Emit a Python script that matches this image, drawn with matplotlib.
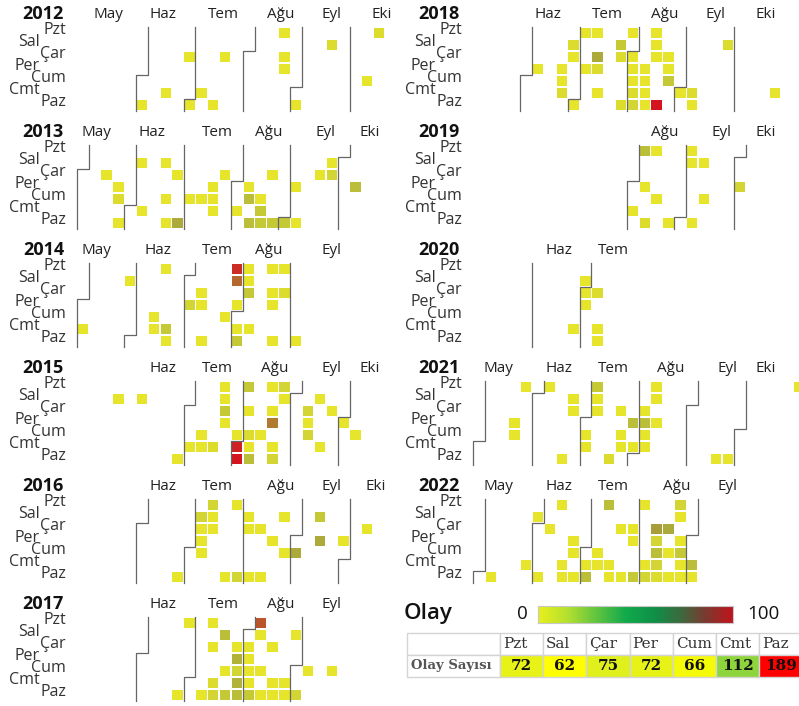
import datetime as dt
import numpy as np
import matplotlib
matplotlib.use("Agg")
import matplotlib.pyplot as plt
from matplotlib.colors import LinearSegmentedColormap, Normalize
from matplotlib.patches import Rectangle

plt.rcParams['font.family'] = ['Open Sans', 'DejaVu Sans']

# ---- data ----------------------------------------------------------------
years = [2012, 2013, 2014, 2015, 2016, 2017, 2018, 2019, 2020, 2021, 2022]
day_names = ["Pzt", "Sal", "Çar", "Per", "Cum", "Cmt", "Paz"]
month_names = {5: "May", 6: "Haz", 7: "Tem", 8: "Ağu", 9: "Eyl", 10: "Eki"}

dates_2012 = ["06-03", "06-16", "06-27", "07-01", "07-07", "07-15", "07-18", "08-20",
              "08-22", "08-23", "09-02", "09-18", "10-12", "10-15"]
counts_2012 = [1, 1, 1, 1, 1, 1, 1, 1, 1, 1, 1, 2, 1, 2]

dates_2013 = ["05-15", "05-23", "05-24", "05-26", "06-04", "06-08", "06-18", "06-21",
              "06-23", "06-26", "06-30", "07-05", "07-12", "07-18", "07-19", "07-20",
              "07-24", "08-03", "08-08", "08-09", "08-11", "08-16", "08-17", "08-18",
              "08-21", "08-25", "09-01", "09-05", "09-08", "09-18", "09-24", "09-25",
              "10-10"]
counts_2013 = [1, 1, 2, 1, 1, 1, 1, 1, 1, 1, 7, 1, 1, 1, 1, 1,
               1, 1, 1, 5, 5, 1, 4, 4, 1, 4, 4, 1, 1, 1, 1, 3, 5]

dates_2014 = ["05-03", "05-27", "06-13", "06-14", "06-16", "06-21", "06-22", "07-03",
              "07-09", "07-10", "07-13", "07-25", "07-28", "07-29", "07-31", "08-02",
              "08-03", "08-04", "08-05", "08-06", "08-09", "08-18", "08-20", "08-21",
              "08-24", "08-25", "08-27", "09-07"]
counts_2014 = [1, 1, 1, 1, 1, 4, 1, 3, 1, 1, 1, 1, 15, 11, 1, 1,
               4, 1, 1, 4, 1, 1, 1, 1, 1, 1, 2, 1]

dates_2015 = ["05-19", "06-02", "06-28", "07-04", "07-10", "07-11", "07-18", "07-20",
              "07-21", "07-22", "07-23", "07-31", "08-01", "08-02", "08-03", "08-05",
              "08-07", "08-08", "08-09", "08-14", "08-17", "08-19", "08-20", "08-22",
              "08-23", "08-24", "08-25", "09-09", "09-10", "09-11", "09-15", "09-19",
              "09-23", "10-01", "10-09"]
counts_2015 = [1, 1, 1, 1, 1, 1, 2, 1, 1, 4, 1, 1, 17, 20, 4, 1,
               2, 1, 5, 1, 1, 1, 10, 1, 3, 3, 1, 3, 1, 3, 1, 1, 1, 1, 1]

dates_2016 = ["06-26", "07-05", "07-06", "07-07", "07-08", "07-11", "07-12", "07-13",
              "07-24", "07-25", "07-31", "08-02", "08-03", "08-07", "08-10", "08-14",
              "08-18", "08-23", "08-26", "09-02", "09-13", "09-15", "09-29", "10-12"]
counts_2016 = [1, 3, 1, 1, 1, 3, 1, 1, 1, 1, 3, 1, 1, 1, 1, 1,
               1, 1, 1, 7, 4, 7, 1, 1]

dates_2017 = ["06-25", "06-26", "07-09", "07-10", "07-12", "07-15", "07-16", "07-18",
              "07-21", "07-23", "07-26", "07-27", "07-28", "07-29", "07-30", "08-02",
              "08-03", "08-04", "08-05", "08-06", "08-07", "08-08", "08-11", "08-13",
              "08-16", "08-19", "08-20", "08-26", "08-27", "08-29", "09-03", "09-08",
              "09-22"]
counts_2017 = [1, 1, 1, 1, 1, 2, 3, 5, 1, 4, 1, 6, 3, 6, 5, 1,
               1, 1, 1, 4, 12, 1, 1, 1, 1, 1, 1, 1, 1, 1, 3, 1, 1]

dates_2018 = ["06-07", "06-21", "06-22", "06-23", "06-26", "06-27", "07-01", "07-02",
              "07-05", "07-09", "07-11", "07-12", "07-14", "07-24", "07-25", "07-29",
              "07-30", "08-01", "08-02", "08-03", "08-04", "08-05", "08-09", "08-10",
              "08-11", "08-12", "08-13", "08-14", "08-15", "08-19", "08-22", "08-23",
              "08-24", "09-01", "09-08", "09-09", "09-25", "10-27"]
counts_2018 = [1, 1, 1, 2, 2, 1, 1, 1, 1, 1, 7, 2, 1, 4, 2, 2,
               1, 1, 1, 1, 2, 3, 1, 1, 1, 1, 1, 1, 1, 20, 1, 1,
               4, 1, 2, 1, 2, 1]

dates_2019 = ["08-03", "08-05", "08-08", "08-11", "08-12", "08-16", "08-25", "09-02",
              "09-03", "09-08", "09-10", "09-13", "10-03"]
counts_2019 = [1, 5, 1, 2, 1, 1, 1, 1, 1, 1, 1, 1, 3]

dates_2020 = ["06-27", "06-30", "07-01", "07-02", "07-08", "07-11", "07-12"]
counts_2020 = [1, 1, 1, 1, 2, 1, 1]

dates_2021 = ["05-20", "05-21", "05-24", "06-07", "06-20", "06-22", "06-23", "07-02",
              "07-03", "07-05", "07-06", "07-07", "07-18", "07-21", "07-23", "07-24",
              "07-29", "07-31", "08-04", "08-05", "08-06", "08-07", "08-09", "08-10",
              "08-12", "09-19", "09-26", "11-01"]
counts_2021 = [1, 1, 1, 1, 1, 1, 1, 1, 1, 4, 1, 1, 2, 1, 1, 1,
               5, 1, 1, 5, 1, 1, 1, 1, 1, 1, 1, 1]

dates_2022 = ["05-08", "05-28", "05-31", "06-05", "06-08", "06-13", "06-18", "06-19",
              "06-23", "06-24", "06-26", "07-02", "07-03", "07-08", "07-09", "07-11",
              "07-16", "07-17", "07-20", "07-24", "07-27", "07-28", "07-31", "08-01",
              "08-06", "08-07", "08-10", "08-11", "08-12", "08-13", "08-14", "08-17",
              "08-19", "08-21", "08-22", "08-23", "08-25", "08-26", "08-27", "08-28",
              "09-03", "09-04"]
counts_2022 = [1, 1, 1, 1, 1, 1, 1, 1, 1, 1, 1, 1, 5, 1, 1, 5,
               1, 1, 1, 1, 1, 1, 4, 1, 1, 3, 8, 3, 5, 3, 2, 7,
               1, 1, 3, 1, 1, 4, 1, 1, 5, 1]

# months that get a name on top / a boundary line in each panel
label_months = {2012: [5, 6, 7, 8, 9, 10], 2013: [5, 6, 7, 8, 9, 10], 2014: [5, 6, 7, 8, 9],
                2015: [6, 7, 8, 9, 10], 2016: [6, 7, 8, 9, 10], 2017: [6, 7, 8, 9],
                2018: [6, 7, 8, 9, 10], 2019: [8, 9, 10], 2020: [6, 7],
                2021: [5, 6, 7, 8, 9, 10], 2022: [5, 6, 7, 8, 9]}
line_months = {2012: [6, 7, 8, 9, 10], 2013: [5, 6, 7, 8, 9, 10], 2014: [5, 6, 7, 8, 9],
               2015: [7, 8, 9, 10], 2016: [6, 7, 8, 9, 10], 2017: [6, 7, 8, 9],
               2018: [6, 7, 8, 9, 10], 2019: [8, 9, 10], 2020: [6, 7],
               2021: [5, 6, 7, 8, 9, 10], 2022: [5, 6, 7, 8, 9]}

table_counts = [72, 62, 75, 72, 66, 112, 189]
legend_min, legend_max = 0, 100

events = {2012: (dates_2012, counts_2012), 2013: (dates_2013, counts_2013),
          2014: (dates_2014, counts_2014), 2015: (dates_2015, counts_2015),
          2016: (dates_2016, counts_2016), 2017: (dates_2017, counts_2017),
          2018: (dates_2018, counts_2018), 2019: (dates_2019, counts_2019),
          2020: (dates_2020, counts_2020), 2021: (dates_2021, counts_2021),
          2022: (dates_2022, counts_2022)}

# ---- colours ---------------------------------------------------------------
cell_cmap = LinearSegmentedColormap.from_list("cells", [
    (0.0, "#e6e42b"), (0.1, "#d2d533"), (0.22, "#b7bb39"), (0.35, "#a6a43a"),
    (0.48, "#b07830"), (0.6, "#bc4e2a"), (0.75, "#cc2a26"), (1.0, "#d4141e")])
cell_norm = Normalize(1, 20)
legend_cmap = LinearSegmentedColormap.from_list("legend", [
    (0.0, "#e8f01c"), (0.15, "#b4e030"), (0.3, "#60c440"), (0.45, "#12aa4c"),
    (0.6, "#0f8f48"), (0.73, "#3b6b3e"), (0.86, "#7a3a30"), (1.0, "#c0141c")])
table_cmap = LinearSegmentedColormap.from_list("table", [
    (0.0, "#ffff00"), (0.1, "#e0f01c"), (0.39, "#8ed43c"), (0.7, "#d09030"),
    (1.0, "#ff0000")])

# ---- layout (pixels) --------------------------------------------------------
W, H = 799, 706
CELL_X, CELL_Y = 11.85, 12.0
COL0 = -124.5        # x of week column 0 in a left panel
PANEL_DX, PANEL_DY = 396, 118
ROW0 = 33            # y of the Monday row in the first panel
AX_W = 440
# small horizontal nudges (in weeks) for the month names
month_nudge = {5: -0.85, 6: -0.2, 7: 0.35, 8: 0.7, 9: 1.0, 10: 0.2}


def week_col(day):
    jan1 = dt.date(day.year, 1, 1)
    return (day.timetuple().tm_yday - 1 + jan1.weekday()) // 7


def wk(px):
    # horizontal pixel inside a panel -> week units
    return (px - COL0) / CELL_X


fig = plt.figure(figsize=(W / 100, H / 100), dpi=100)

for i, year in enumerate(years):
    side, slot = divmod(i, 6)
    x0 = side * PANEL_DX
    y0 = ROW0 + slot * PANEL_DY
    ax = fig.add_axes([x0 / W, 1 - (y0 + 6.5 * CELL_Y) / H, AX_W / W, 7 * CELL_Y / H])
    ax.set_xlim(wk(0), wk(AX_W))
    ax.set_ylim(6.5, -0.5)
    ax.axis("off")

    dates, counts = events[year]
    for s, n in zip(dates, counts):
        day = dt.date(year, int(s[:2]), int(s[3:]))
        ax.add_patch(Rectangle((week_col(day) + 0.06, day.weekday() - 0.43), 0.88, 0.86,
                               facecolor=cell_cmap(cell_norm(n)), edgecolor="none"))

    for m in line_months[year]:
        first = dt.date(year, m, 1)
        c, d = week_col(first), first.weekday()
        if d == 0:
            xs, ys = [c, c], [-0.5, 6.5]
        else:
            xs, ys = [c + 1, c + 1, c, c], [-0.5, d - 0.5, d - 0.5, 6.5]
        ax.plot(xs, ys, color="#666666", lw=0.9, clip_on=False)

    for m in label_months[year]:
        c1 = week_col(dt.date(year, m, 1))
        c2 = week_col(dt.date(year, m + 1, 1) - dt.timedelta(days=1))
        xc = (c1 + c2 + 1) / 2 + month_nudge[m]
        ax.text(xc, -1.5, month_names[m], ha="center", va="center", fontsize=11,
                color="#222222", clip_on=False)

    ax.text(wk(64), -1.6, str(year), ha="right", va="center", fontsize=13,
            fontweight="bold", color="#111111", clip_on=False)
    for d, name in enumerate(day_names):
        xr = 66 if d % 2 == 0 else 40
        ax.text(wk(xr), d - 0.28, name, ha="right", va="center", fontsize=11.5,
                color="#333333", clip_on=False)

# ---- legend -----------------------------------------------------------------
cax = fig.add_axes([538 / W, 1 - 623 / H, 195 / W, 17 / H])
cax.imshow(np.linspace(legend_min, legend_max, 256)[None, :], aspect="auto",
           cmap=legend_cmap, extent=[legend_min, legend_max, 0, 1])
cax.set_xticks([])
cax.set_yticks([])
for sp in cax.spines.values():
    sp.set_color("#c8c8c8")
    sp.set_linewidth(0.8)

ov = fig.add_axes([0, 0, 1, 1])
ov.set_xlim(0, W)
ov.set_ylim(H, 0)
ov.axis("off")
ov.text(404, 613, "Olay", ha="left", va="center", fontsize=16, fontweight="semibold",
        color="#111111")
ov.text(522, 614, str(legend_min), ha="center", va="center", fontsize=13.5, color="#111111")
ov.text(763, 614, str(legend_max), ha="center", va="center", fontsize=13.5, color="#111111")

# ---- table ------------------------------------------------------------------
tx0, lab_w, cw = 407, 93, 43.2
ty0, rh = 633, 22
tnorm = Normalize(min(table_counts), max(table_counts))
ov.add_patch(Rectangle((tx0, ty0), lab_w, rh, facecolor="white", edgecolor="#d4d4d4", lw=1))
ov.add_patch(Rectangle((tx0, ty0 + rh), lab_w, rh, facecolor="white", edgecolor="#d4d4d4", lw=1))
ov.text(tx0 + 4, ty0 + rh * 1.5, "Olay Sayısı", ha="left", va="center", fontsize=9.5,
        family="DejaVu Serif", color="#555555", fontweight="bold")
for j, (name, n) in enumerate(zip(day_names, table_counts)):
    x = tx0 + lab_w + j * cw
    ov.add_patch(Rectangle((x, ty0), cw, rh, facecolor="white", edgecolor="#d4d4d4", lw=1))
    ov.add_patch(Rectangle((x, ty0 + rh), cw, rh, facecolor=table_cmap(tnorm(n)),
                           edgecolor="#d4d4d4", lw=1))
    ov.text(x + 3, ty0 + rh / 2, name, ha="left", va="center", fontsize=11,
            family="DejaVu Serif", color="#333333")
    ov.text(x + cw / 2, ty0 + rh * 1.5, str(n), ha="center", va="center", fontsize=11,
            family="DejaVu Serif", fontweight="bold", color="#111111")

fig.savefig("out.png", dpi=100)
